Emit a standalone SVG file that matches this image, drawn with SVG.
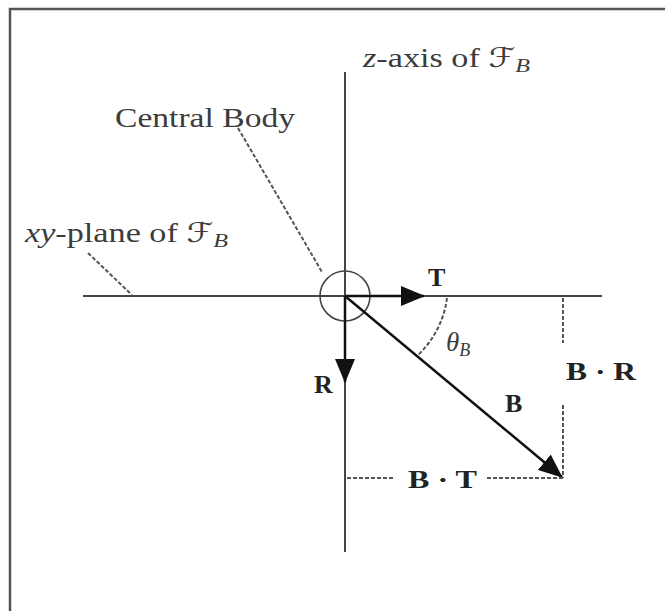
<svg xmlns="http://www.w3.org/2000/svg" width="665" height="611" viewBox="0 0 665 611">
<style>
.lbl{font-family:"Liberation Serif","DejaVu Serif",serif;fill:#3c3c3c;font-size:27px}
.sym{font-family:"DejaVu Serif","DejaVu Sans",serif}
.it{font-style:italic}
.bold{font-family:"Liberation Serif","DejaVu Serif",serif;font-weight:bold;fill:#222;font-size:26px}
.axis{stroke:#444;stroke-width:2;fill:none}
.vec{stroke:#111;stroke-width:2.5;fill:none}
.dash{stroke:#555;stroke-width:2;stroke-dasharray:4 2;fill:none}
.frame{stroke:#555;stroke-width:2.5;fill:none}
</style>
<defs>
<marker id="ah" markerWidth="24" markerHeight="20" viewBox="0 0 24 20" refX="23" refY="10" orient="auto" markerUnits="userSpaceOnUse">
<path d="M0,0 L24,10 L0,20 z" fill="#111"/>
</marker>
</defs>
<rect width="665" height="611" fill="#fff"/>
<path class="frame" d="M10,611 L10,9 L665,9"/>

<g id="axes">
<line class="axis" x1="83" y1="296" x2="602" y2="296"/>
<line class="axis" x1="345" y1="72" x2="345" y2="552"/>
</g>

<g id="central-body">
<circle cx="345" cy="296" r="25" fill="none" stroke="#444" stroke-width="1.6"/>
</g>

<g id="connectors">
<line class="vec" x1="345" y1="296" x2="424" y2="296" marker-end="url(#ah)"/>
<line class="vec" x1="345" y1="296" x2="345" y2="382" marker-end="url(#ah)"/>
<line class="vec" x1="345" y1="296" x2="562" y2="477" marker-end="url(#ah)"/>
<line class="dash" x1="88" y1="253" x2="132" y2="295"/>
<line class="dash" x1="238" y1="128" x2="322" y2="272"/>
<line class="dash" x1="563" y1="298" x2="563" y2="343"/>
<line class="dash" x1="563" y1="405" x2="563" y2="478"/>
<line class="dash" x1="347" y1="478" x2="393" y2="478"/>
<line class="dash" x1="487" y1="478" x2="563" y2="478"/>
<path class="dash" d="M447,298 A95,95 0 0 1 418,355"/>
</g>

<g id="labels">
<text class="lbl" x="115" y="127" textLength="180" lengthAdjust="spacingAndGlyphs">Central Body</text>
<text class="lbl" x="25" y="242" textLength="203" lengthAdjust="spacingAndGlyphs"><tspan class="it">xy</tspan>-plane of <tspan class="sym">ℱ</tspan><tspan class="it" font-size="19" dy="5">B</tspan></text>
<text class="lbl" x="363" y="67" textLength="167" lengthAdjust="spacingAndGlyphs"><tspan class="it">z</tspan>-axis of <tspan class="sym">ℱ</tspan><tspan class="it" font-size="19" dy="5">B</tspan></text>
<text class="lbl it" x="446" y="351" font-size="24">θ<tspan font-size="18" dy="5">B</tspan></text>
<text class="bold" x="428" y="286">T</text>
<text class="bold" x="314" y="393">R</text>
<text class="bold" x="505" y="412">B</text>
<text class="bold" x="566" y="380" textLength="70" lengthAdjust="spacingAndGlyphs">B · R</text>
<text class="bold" x="408" y="488" textLength="69" lengthAdjust="spacingAndGlyphs">B · T</text>
</g>
</svg>
